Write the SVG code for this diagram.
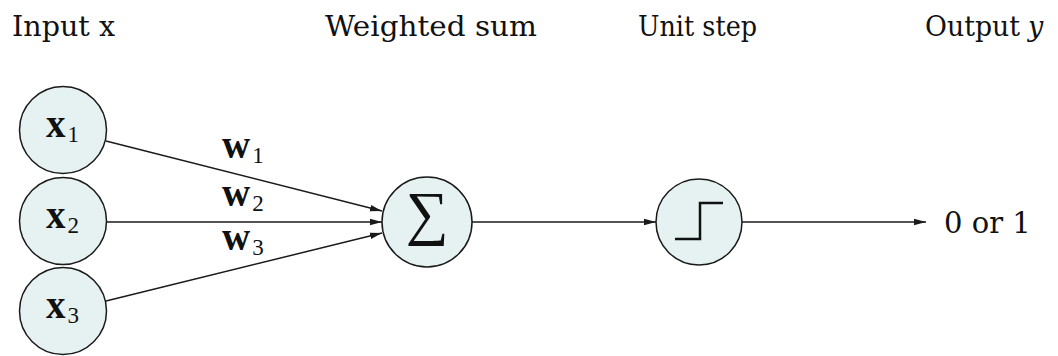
<svg xmlns="http://www.w3.org/2000/svg" width="1058" height="356" viewBox="0 0 1058 356">
  <style>
    .node { fill: #e6f2f2; stroke: #1a1a1a; stroke-width: 1.5; }
    .edge { fill: none; stroke: #1a1a1a; stroke-width: 1.5; }
    .head { font-family: "DejaVu Serif", "Liberation Serif", serif; font-size: 27px; fill: #111; }
    .math { font-family: "Liberation Serif", "DejaVu Serif", serif; fill: #111; }
    .bold { font-weight: bold; font-size: 39px; }
    .sub { font-size: 23px; }
    .num { font-family: "DejaVu Serif", "Liberation Serif", serif; font-size: 29px; fill: #111; }
  </style>
  <defs>
    <marker id="arrow" viewBox="0 0 12 10" refX="12" refY="5" markerWidth="12" markerHeight="10" markerUnits="userSpaceOnUse" orient="auto">
      <path d="M0,1.8 L12,5 L0,8.2 z" fill="#1a1a1a"/>
    </marker>
  </defs>

  <!-- column headings -->
  <g id="headings">
    <text class="head" x="12" y="36" textLength="103" lengthAdjust="spacingAndGlyphs">Input x</text>
    <text class="head" x="325" y="36" textLength="212" lengthAdjust="spacingAndGlyphs">Weighted sum</text>
    <text class="head" x="638" y="36" textLength="119" lengthAdjust="spacingAndGlyphs">Unit step</text>
    <text class="head" x="925" y="36" textLength="95" lengthAdjust="spacingAndGlyphs">Output</text>
    <text class="head" x="1028" y="36" font-style="italic">y</text>
  </g>

  <!-- connectors -->
  <g id="connectors">
    <line class="edge" x1="106" y1="141" x2="382" y2="211" marker-end="url(#arrow)"/>
    <line class="edge" x1="107" y1="222" x2="382" y2="222" marker-end="url(#arrow)"/>
    <line class="edge" x1="106" y1="301" x2="382" y2="233" marker-end="url(#arrow)"/>
    <line class="edge" x1="472" y1="222" x2="656" y2="222" marker-end="url(#arrow)"/>
    <line class="edge" x1="742" y1="222" x2="926" y2="222" marker-end="url(#arrow)"/>
    <text class="math" x="222" y="158"><tspan class="bold">w</tspan><tspan class="sub" dx="2" dy="5">1</tspan></text>
    <text class="math" x="222" y="206"><tspan class="bold">w</tspan><tspan class="sub" dx="2" dy="5">2</tspan></text>
    <text class="math" x="222" y="250"><tspan class="bold">w</tspan><tspan class="sub" dx="2" dy="5">3</tspan></text>
  </g>

  <!-- input nodes -->
  <g id="x1">
    <circle class="node" cx="63" cy="130" r="43.5"/>
    <text class="math" x="46" y="137"><tspan class="bold">x</tspan><tspan class="sub" dx="2" dy="5">1</tspan></text>
  </g>
  <g id="x2">
    <circle class="node" cx="63" cy="221" r="43.5"/>
    <text class="math" x="46" y="228"><tspan class="bold">x</tspan><tspan class="sub" dx="2" dy="5">2</tspan></text>
  </g>
  <g id="x3">
    <circle class="node" cx="63" cy="311" r="43.5"/>
    <text class="math" x="46" y="318"><tspan class="bold">x</tspan><tspan class="sub" dx="2" dy="5">3</tspan></text>
  </g>

  <!-- summation node -->
  <g id="sum">
    <circle class="node" cx="427" cy="222" r="45"/>
    <text class="math" x="427" y="233" font-size="60" text-anchor="middle">∑</text>
  </g>

  <!-- step activation node -->
  <g id="step">
    <circle class="node" cx="699" cy="222" r="43"/>
    <polyline points="675,239 700,239 700,203 723,203" fill="none" stroke="#111" stroke-width="2.5"/>
  </g>

  <!-- output -->
  <g id="output">
    <text class="num" x="944" y="233">0 or 1</text>
  </g>
</svg>
